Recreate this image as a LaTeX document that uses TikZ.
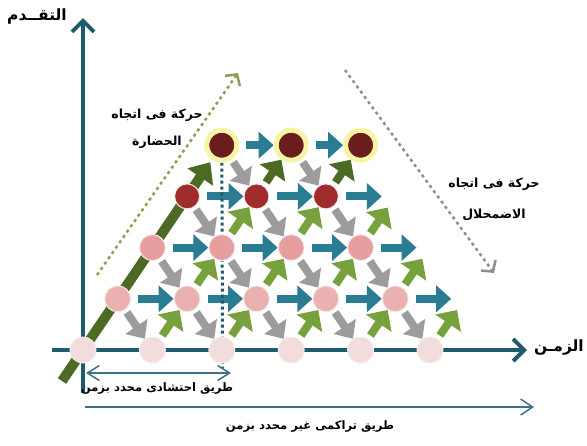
\documentclass[tikz,border=0pt]{standalone}
\usepackage{fontspec}
\usepackage{xcolor}
\usepackage{tikz}
\usetikzlibrary{arrows.meta}
\TeXXeTstate=1
\newfontfamily\arabicfont[Script=Arabic]{DejaVu Sans}

\definecolor{axisteal}{HTML}{1E5B6C}
\definecolor{flowblue}{HTML}{2A7C93}
\definecolor{flowgrey}{HTML}{9C9C9C}
\definecolor{leaf}{HTML}{77A13C}
\definecolor{olive}{HTML}{4C6A23}
\definecolor{rose0}{HTML}{F2DCDC}
\definecolor{rose1}{HTML}{EBB1B1}
\definecolor{rose2}{HTML}{E69E9E}
\definecolor{brick}{HTML}{A02C2C}
\definecolor{maroon}{HTML}{6B1C1C}
\definecolor{halo}{HTML}{F8F4A6}
\definecolor{dotgreen}{HTML}{8D9E5A}
\definecolor{dotgrey}{HTML}{8E8E8E}
\definecolor{spanline}{HTML}{3D7183}

\pgfdeclarelayer{back}
\pgfdeclarelayer{mid}
\pgfsetlayers{back,mid,main}

\tikzset{
  arlabel/.style={font=\arabicfont\bfseries\fontsize{12.5}{14}\selectfont, text=black, align=center, inner sep=0pt},
  spanlabel/.style={arlabel, font=\arabicfont\bfseries\fontsize{11.6}{14}\selectfont},
  axislabel/.style={font=\arabicfont\bfseries\fontsize{15.5}{17}\selectfont, text=black, inner sep=0pt},
  axis/.style={draw=axisteal, line width=4pt, -{Straight Barb[length=11pt,width=22pt]}},
  dot/.style={circle, inner sep=0pt, minimum size=26pt, draw=rose0!60!white, line width=1pt},
  row0/.style={fill=rose0},
  row1/.style={fill=rose1},
  row2/.style={fill=rose2},
  row3/.style={fill=brick, minimum size=25pt},
  row4/.style={fill=maroon, draw=halo, line width=5pt, minimum size=30pt},
  flowteal/.style={draw=flowblue, line width=8pt, shorten <=7pt, -{Triangle[length=15pt,width=26pt]}},
  flowgray/.style={draw=flowgrey, line width=8pt, shorten <=3pt, -{Triangle[length=15pt,width=26pt]}},
  flowgreen/.style={draw=leaf, line width=8pt, shorten <=4pt, -{Triangle[length=16pt,width=30pt]}},
  flowdark/.style={flowgreen, draw=olive},
  trend/.style={line width=2.5pt, dash pattern=on 3pt off 3.5pt, -{Straight Barb[length=8pt,width=18pt]}},
  span/.style={draw=spanline, line width=1.5pt},
}

\begin{document}
\begin{tikzpicture}[x=1pt,y=-1pt]
  \useasboundingbox (0,0) rectangle (587,445);

  % --- lattice of stages ---
  \foreach \r/\last in {0/5,1/4,2/3,3/2,4/2} {
    \foreach \k in {0,...,\last} {
      \node[dot, row\r] (n-\r-\k) at ({83+34.7*\r+69.4*\k},{350-51.2*\r}) {};
    }
  }
  \coordinate (g-1) at ({83+34.7*1+69.4*5},{350-51.2*1});
  \coordinate (g-2) at ({83+34.7*2+69.4*4},{350-51.2*2});
  \coordinate (g-3) at ({83+34.7*3+69.4*3},{350-51.2*3});

  % axes and guides
  \coordinate (o) at (83,393);
  \coordinate (ytip) at (83,18);
  \coordinate (xs) at (52,350);
  \coordinate (xtip) at (527,350);
  \coordinate (gs) at (62,381);
  \coordinate (dl) at (222.6,368);
  \coordinate (up-s) at (97,275);
  \coordinate (up-e) at (238,73);
  \coordinate (down-s) at (345,70);
  \coordinate (down-e) at (494,273);

  \begin{pgfonlayer}{back}
    \draw[axis] (o) -- (ytip);
    \draw[axis] (xs) -- (xtip);
    \draw[trend, draw=dotgreen] (up-s) -- (up-e);
    \draw[trend, draw=dotgrey] (down-s) -- (down-e);
    \draw[olive, line width=10pt, shorten >=3pt, -{Triangle[length=18pt,width=30pt]}] (gs) -- (n-4-0);

    % horizontal steps
    \foreach \r/\last in {1/3,2/2,3/1,4/1} {
      \foreach \k in {0,...,\last} {
        \pgfmathtruncatemacro{\kn}{\k+1}
        \draw[flowteal] (n-\r-\k) -- (n-\r-\kn);
      }
    }
    \foreach \r/\k in {1/4,2/3,3/2} {
      \draw[flowteal, shorten >=13.5pt] (n-\r-\k) -- (g-\r);
    }

    % falling back
    \foreach \r/\last in {1/4,2/3,3/2,4/1} {
      \foreach \k in {0,...,\last} {
        \pgfmathtruncatemacro{\rd}{\r-1}
        \pgfmathtruncatemacro{\kn}{\k+1}
        \draw[flowgray] (n-\r-\k) -- (n-\rd-\kn);
      }
    }

    % climbing up
    \foreach \r/\last in {0/4,1/3,2/2} {
      \foreach \k in {1,...,\last} {
        \pgfmathtruncatemacro{\ru}{\r+1}
        \draw[flowgreen] (n-\r-\k) -- (n-\ru-\k);
      }
    }
    \foreach \r/\k/\g in {0/5/1,1/4/2,2/3/3} {
      \draw[flowgreen, shorten >=13.5pt] (n-\r-\k) -- (g-\g);
    }
    \foreach \k in {1,2} {
      \draw[flowdark] (n-3-\k) -- (n-4-\k);
    }
  \end{pgfonlayer}

  \begin{pgfonlayer}{mid}
    \draw[axisteal, line width=3pt, dash pattern=on 3pt off 3pt] (n-4-0) -- (dl);
  \end{pgfonlayer}

  % --- labels ---
  \node[axislabel] (ylab) at (37,17) {\beginR التقــدم\endR};
  \node[axislabel] (xlab) at (559,347) {\beginR الزمـن\endR};
  \node[arlabel] (civ) at (157,129) {\beginR حركة فى اتجاه\endR\\[13pt]\beginR الحضارة\endR};
  \node[arlabel] (dec) at (494,199) {\beginR حركة فى اتجاه\endR\\[17pt]\beginR الاضمحلال\endR};

  % spans under the time axis
  \coordinate (s1a) at (86,373);
  \coordinate (s1b) at (231,373);
  \coordinate (s2a) at (85,407);
  \coordinate (s2b) at (534,407);
  \draw[span, {Straight Barb[length=12pt,width=15pt]}-{Straight Barb[length=12pt,width=15pt]}] (s1a) -- (s1b);
  \draw[span, -{Straight Barb[length=12pt,width=16pt]}] (s2a) -- (s2b);
  \node[spanlabel] (short) at (157,389) {\beginR طريق احتشادى محدد بزمن\endR};
  \node[spanlabel] (long) at (310,427) {\beginR طريق تراكمى غير محدد بزمن\endR};
\end{tikzpicture}
\end{document}
